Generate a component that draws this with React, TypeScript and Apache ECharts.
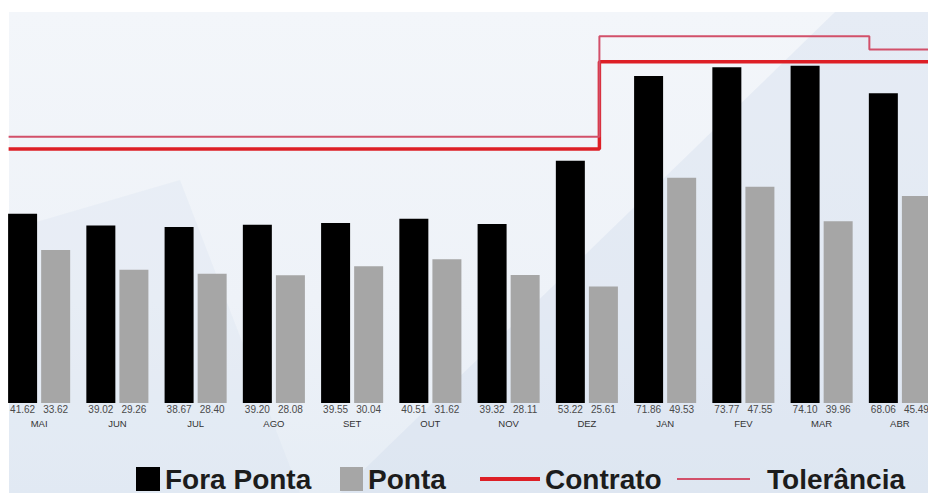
import React, { useEffect, useRef } from "react";
import * as echarts from "echarts";

const months = ["MAI", "JUN", "JUL", "AGO", "SET", "OUT", "NOV", "DEZ", "JAN", "FEV", "MAR", "ABR"];
const foraPonta = [41.62, 39.02, 38.67, 39.2, 39.55, 40.51, 39.32, 53.22, 71.86, 73.77, 74.1, 68.06];
const ponta = [33.62, 29.26, 28.4, 28.08, 30.04, 31.62, 28.11, 25.61, 49.53, 47.55, 39.96, 45.49];
// step lines, x in category-index units
const contratoX = [-0.39, 7.16, 7.16, 11.5];
const contratoY = [55.8, 55.8, 75, 75];
const toleranciaX = [-0.39, 7.16, 7.16, 10.61, 10.61, 11.5];
const toleranciaY = [58.5, 58.5, 80.6, 80.6, 77.7, 77.7];

const FONT = "'Liberation Sans', Arial, sans-serif";
const NARROW = "'Liberation Sans Narrow', 'Liberation Sans', Arial, sans-serif";

export default function App() {
  const ref = useRef<HTMLDivElement>(null);
  useEffect(() => {
    if (!ref.current) return;
    const chart = echarts.init(ref.current, null, { renderer: "svg" });
    const zip = (xs: number[], ys: number[]) => xs.map((x, i) => [x, ys[i]]);
    const legendText = { fontFamily: FONT, fontSize: 28, fontWeight: "bold", color: "#1c1c1c" };
    const valueLabel = {
      show: true, position: "bottom", distance: 1,
      formatter: (p: any) => p.value.toFixed(2),
      fontFamily: NARROW, fontSize: 10, color: "#4a4a4a",
    };
    chart.setOption({
      animation: false,
      backgroundColor: "transparent",
      grid: { left: 0, right: 0, top: 16.25, bottom: 90, containLabel: false },
      xAxis: [
        {
          type: "category",
          data: months,
          axisLine: { show: false },
          axisTick: { show: false },
          axisLabel: { margin: 15, fontFamily: NARROW, fontSize: 9.5, color: "#333" },
        },
        { type: "value", min: -0.5, max: 11.5, show: false },
      ],
      yAxis: { type: "value", min: 0, max: 85, show: false, splitLine: { show: false } },
      legend: [
        {
          data: [{ name: "Fora Ponta", icon: "rect" }],
          left: 136, top: 465, padding: 0, itemWidth: 24, itemHeight: 24, textStyle: legendText,
        },
        {
          data: [{ name: "Ponta", icon: "rect" }],
          left: 340, top: 465, padding: 0, itemWidth: 23, itemHeight: 24, textStyle: legendText,
        },
        {
          data: [{ name: "Contrato", icon: "path://M0,0H60V4H0Z" }],
          left: 480, top: 465, padding: 0, itemWidth: 60, itemHeight: 24,
          symbolKeepAspect: true, itemStyle: { borderWidth: 0 }, textStyle: legendText,
        },
        {
          data: [{ name: "Tolerância", icon: "path://M0,0H73V2H0Z" }],
          left: 677, top: 465, padding: 0, itemWidth: 73, itemHeight: 24,
          symbolKeepAspect: true, itemStyle: { borderWidth: 0 },
          textStyle: { ...legendText, padding: [0, 0, 0, 12] },
        },
      ],
      series: [
        {
          name: "Fora Ponta",
          type: "bar",
          data: foraPonta,
          barWidth: 29,
          barGap: "14%",
          itemStyle: { color: "#000" },
          label: valueLabel,
        },
        {
          name: "Ponta",
          type: "bar",
          data: ponta,
          barWidth: 29,
          itemStyle: { color: "#a6a6a6" },
          label: valueLabel,
        },
        {
          name: "Contrato",
          type: "line",
          xAxisIndex: 1,
          data: zip(contratoX, contratoY),
          symbol: "none",
          lineStyle: { color: "#dd1f26", width: 3.5 },
          itemStyle: { color: "#dd1f26" },
          z: 3,
        },
        {
          name: "Tolerância",
          type: "line",
          xAxisIndex: 1,
          data: zip(toleranciaX, toleranciaY),
          symbol: "none",
          lineStyle: { color: "#d2506a", width: 2 },
          itemStyle: { color: "#d2506a" },
          z: 3,
        },
      ],
      graphic: [
        {
          type: "polygon",
          z: -10,
          silent: true,
          shape: { points: [[835, 12], [940, 12], [940, 493], [340, 493]] },
          style: { fill: "rgba(205,218,234,0.35)" },
        },
        {
          type: "polygon",
          z: -10,
          silent: true,
          shape: { points: [[9, 230], [180, 180], [300, 493], [9, 493]] },
          style: { fill: "rgba(215,226,238,0.3)" },
        },
      ],
    });
    return () => chart.dispose();
  }, []);
  return (
    <div
      style={{
        position: "fixed", left: 0, top: 0, width: 928, height: 493,
        background: "#fff", overflow: "hidden",
      }}
    >
      <div
        style={{
          position: "absolute", left: 9, top: 12, right: 0, bottom: 0,
          background: "linear-gradient(180deg, #f3f6fa 0%, #eef2f8 60%, #e6edf5 100%)",
        }}
      />
      <div ref={ref} style={{ position: "absolute", left: 0, top: 0, width: 939, height: 493 }} />
    </div>
  );
}
